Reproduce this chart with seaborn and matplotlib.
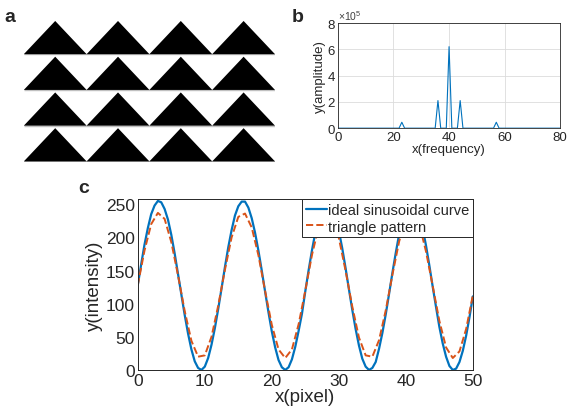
import numpy as np
import pandas as pd
import seaborn as sns
import matplotlib.pyplot as plt

# panel a: triangle pattern layout
n_rows = 4
n_cols = 4

# panel b: spectrum (peaks, everything else is zero)
freq = np.arange(0, 81)
peak_freq = [23, 36, 40, 44, 57]
peak_amp = [0.45e5, 2.1e5, 6.2e5, 2.1e5, 0.45e5]

# panel c: intensity profiles
x_ideal = np.arange(0, 50.5, 0.5)
y_ideal = [128, 159, 189, 214, 235, 248, 255, 253, 243, 227, 204, 176, 145, 114, 83,
           55, 31, 13, 3, 0, 5, 18, 38, 63, 92, 123, 155, 185, 211, 233, 247, 254, 254,
           245, 229, 207, 180, 150, 118, 87, 58, 34, 15, 4, 0, 4, 16, 35, 59, 85, 119,
           151, 181, 208, 230, 246, 254, 254, 247, 232, 210, 184, 154, 122, 91, 62, 37,
           17, 5, 0, 3, 12, 32, 56, 84, 115, 147, 177, 205, 227, 244, 253, 255, 248, 234,
           214, 188, 158, 126, 95, 65, 40, 20, 6, 0, 2, 12, 29, 52, 80, 111]
x_tri = np.arange(0, 51)
y_tri = [128, 180, 220, 237, 228, 193, 143, 89, 44, 20, 22, 50, 97, 151, 200, 231, 236,
         215, 173, 119, 68, 31, 18, 31, 69, 120, 174, 216, 237, 230, 199, 150, 96, 49,
         22, 20, 45, 90, 144, 194, 228, 237, 220, 179, 127, 74, 34, 18, 28, 62, 113]

blue = '#0072BD'
orange = '#D95319'

sns.set_style('white')
plt.rcParams['font.family'] = ['Liberation Sans', 'DejaVu Sans']
plt.rcParams['mathtext.fontset'] = 'custom'
plt.rcParams['mathtext.rm'] = 'Liberation Sans'

fig = plt.figure(figsize=(5.67, 4.14), dpi=100)

# ---- panel a
ax_a = fig.add_axes([0.042, 0.606, 0.443, 0.347])
for r in range(n_rows):
    base = n_rows - 1 - r
    ax_a.hlines(base, 0, n_cols, color='#c0c0c0', lw=1.0, zorder=1)
    for c in range(n_cols):
        ax_a.fill([c, c + 0.5, c + 1], [base, base + 0.93, base], color='black', lw=0, zorder=2)
ax_a.set_xlim(0, n_cols)
ax_a.set_ylim(-0.02, n_rows)
ax_a.axis('off')
fig.text(0.008, 0.958, 'a', fontsize=14, fontweight='bold', va='center')

# ---- panel b
amp = np.zeros(len(freq))
amp[np.searchsorted(freq, peak_freq)] = peak_amp
spec = pd.DataFrame({'f': freq, 'a': amp / 1e5})
ax_b = fig.add_axes([0.596, 0.688, 0.392, 0.254])
sns.lineplot(data=spec, x='f', y='a', ax=ax_b, color=blue, lw=0.8)
ax_b.set_xlim(0, 80)
ax_b.set_ylim(0, 8)
ax_b.set_xticks([0, 20, 40, 60, 80])
ax_b.set_yticks([0, 2, 4, 6, 8])
ax_b.grid(True, color='#dcdcdc', lw=0.6)
ax_b.tick_params(labelsize=9.5, direction='in', length=2, colors='#262626', pad=2)
ax_b.set_xlabel('x(frequency)', fontsize=9.5, labelpad=0, color='#262626')
ax_b.set_ylabel('y(amplitude)', fontsize=9.5, labelpad=1, color='#262626')
for s in ax_b.spines.values():
    s.set_color('#262626')
    s.set_linewidth(0.6)
ax_b.text(0.0, 1.01, r'$\times10^5$', transform=ax_b.transAxes, fontsize=7.5,
          color='#404040', va='bottom')
fig.text(0.515, 0.958, 'b', fontsize=14, fontweight='bold', va='center')

# ---- panel c
ax_c = fig.add_axes([0.243, 0.104, 0.591, 0.413])
sns.lineplot(x=x_ideal, y=y_ideal, ax=ax_c, color=blue, lw=1.6, label='ideal sinusoidal curve')
sns.lineplot(x=x_tri, y=y_tri, ax=ax_c, color=orange, lw=1.4, ls='--', label='triangle pattern')
ax_c.set_xlim(0, 50)
ax_c.set_ylim(0, 258)
ax_c.set_xticks([0, 10, 20, 30, 40, 50])
ax_c.set_yticks([0, 50, 100, 150, 200, 250])
ax_c.tick_params(labelsize=12.5, direction='in', length=3, colors='#262626', pad=2)
ax_c.set_xlabel('x(pixel)', fontsize=13.5, labelpad=0, color='#262626')
ax_c.set_ylabel('y(intensity)', fontsize=13.5, labelpad=2, color='#262626')
for s in ax_c.spines.values():
    s.set_color('#262626')
    s.set_linewidth(0.7)
leg = ax_c.legend(loc='upper right', fontsize=10.5, handlelength=1.4, handletextpad=0.1,
                  borderaxespad=0.0, borderpad=0.25, labelspacing=0.2, fancybox=False,
                  framealpha=1)
leg.get_frame().set_edgecolor('#262626')
leg.get_frame().set_linewidth(0.7)
fig.text(0.138, 0.545, 'c', fontsize=14, fontweight='bold', va='center')

fig.savefig('out.png', dpi=100)
